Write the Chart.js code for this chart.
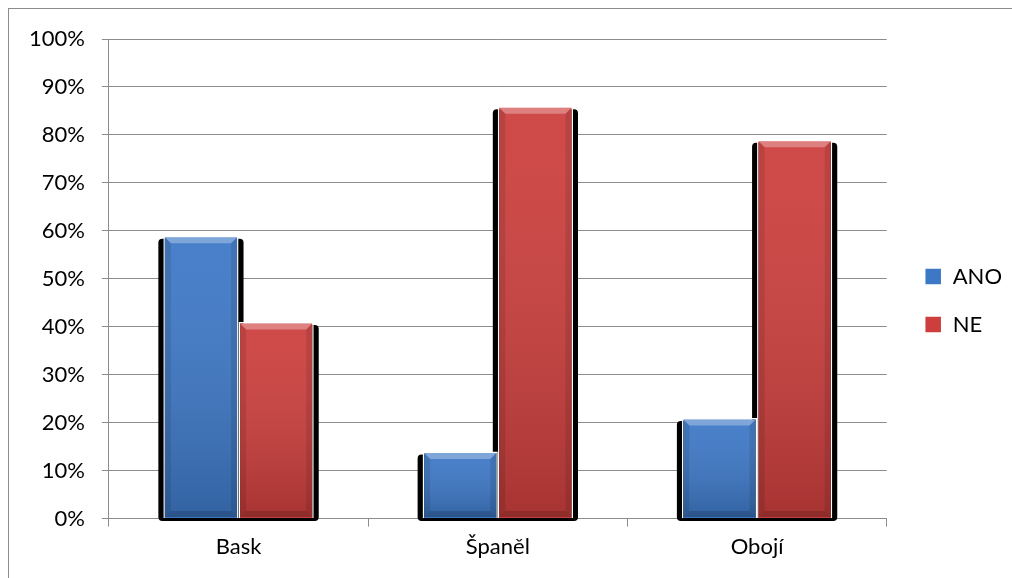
<!DOCTYPE html>
<html>
<head>
<meta charset="utf-8">
<script src="https://cdn.jsdelivr.net/npm/chart.js@4"></script>
<style>
  body { margin: 0; background: #fff; }
  #wrap { position: relative; width: 1012px; height: 578px; }
  #ramecek { position: absolute; left: 8px; top: 8px; right: -2px; bottom: -2px;
    border-left: 1px solid #8c8c8c; border-top: 1px solid #8c8c8c; pointer-events: none; }
</style>
</head>
<body>
<div id="wrap">
<canvas id="graf" width="1012" height="578"></canvas>
<div id="ramecek"></div>
</div>
<script>
const kategorie = ["Bask", "Španěl", "Obojí"];
const ano = [59, 14, 21];
const ne = [41, 86, 79];
const tickyY = [0, 10, 20, 30, 40, 50, 60, 70, 80, 90, 100];

const modra = "#3d78c6";
const cervena = "#cc3f3d";
const pismo = "Lato, 'Open Sans', sans-serif";

// stin + zkoseni sloupcu (jako v Excelu)
const efektSloupcu = {
  id: "efektSloupcu",
  beforeDatasetsDraw(chart) {
    const ctx = chart.ctx;
    ctx.save();
    chart.data.datasets.forEach((ds, i) => {
      chart.getDatasetMeta(i).data.forEach((bar) => {
        const l = bar.x - bar.width / 2;
        ctx.fillStyle = "#000";
        ctx.beginPath();
        ctx.roundRect(l - 5, bar.y + 3, bar.width + 10, bar.base - bar.y, 4);
        ctx.fill();
      });
    });
    ctx.restore();
  },
  afterDatasetsDraw(chart) {
    const ctx = chart.ctx;
    ctx.save();
    chart.data.datasets.forEach((ds, i) => {
      chart.getDatasetMeta(i).data.forEach((bar) => {
        const l = bar.x - bar.width / 2 + 1.5, r = bar.x + bar.width / 2 - 1.5;
        const t = bar.y + 1.5, b = bar.base - 1;
        const g = ctx.createLinearGradient(0, t, 0, b);
        g.addColorStop(0, "rgba(255,255,255,0.06)");
        g.addColorStop(1, "rgba(0,0,0,0.18)");
        ctx.fillStyle = g;
        ctx.fillRect(l, t, r - l, b - t);
        const e = 6;
        // horni hrana
        ctx.fillStyle = "rgba(255,255,255,0.3)";
        ctx.beginPath();
        ctx.moveTo(l, t); ctx.lineTo(r, t); ctx.lineTo(r - e, t + e); ctx.lineTo(l + e, t + e);
        ctx.closePath(); ctx.fill();
        // boky
        ctx.fillStyle = "rgba(0,0,0,0.1)";
        ctx.beginPath();
        ctx.moveTo(l, t); ctx.lineTo(l + e, t + e); ctx.lineTo(l + e, b - e); ctx.lineTo(l, b);
        ctx.closePath(); ctx.fill();
        ctx.beginPath();
        ctx.moveTo(r, t); ctx.lineTo(r - e, t + e); ctx.lineTo(r - e, b - e); ctx.lineTo(r, b);
        ctx.closePath(); ctx.fill();
        // spodni hrana
        ctx.fillStyle = "rgba(0,0,0,0.15)";
        ctx.beginPath();
        ctx.moveTo(l, b); ctx.lineTo(l + e, b - e); ctx.lineTo(r - e, b - e); ctx.lineTo(r, b);
        ctx.closePath(); ctx.fill();
      });
    });
    ctx.restore();
  }
};

// legenda posunuta doprava od grafu
const posunLegendy = {
  id: "posunLegendy",
  beforeInit(chart) {
    const puvodniFit = chart.legend.fit;
    chart.legend.fit = function () {
      puvodniFit.call(this);
      this.width += 12;
    };
  },
  afterLayout(chart) {
    chart.legend.left += 12;
    chart.legend.top -= 5;
  }
};

const data = {
  labels: kategorie,
  datasets: [
    { label: "ANO", data: ano, backgroundColor: modra, borderColor: "#fff", borderWidth: 1.5 },
    { label: "NE", data: ne, backgroundColor: cervena, borderColor: "#fff", borderWidth: 1.5 }
  ]
};

const config = {
  type: "bar",
  data: data,
  options: {
    responsive: false,
    animation: false,
    layout: { padding: { left: 12, top: 39, right: 0, bottom: 11 } },
    datasets: { bar: { categoryPercentage: 0.58, barPercentage: 1 } },
    scales: {
      x: {
        grid: { drawOnChartArea: false, drawTicks: true, tickLength: 8, color: "#8c8c8c", offset: true },
        border: { color: "#8c8c8c" },
        ticks: { color: "#000", font: { family: pismo, size: 22 }, padding: 7 }
      },
      y: {
        min: 0, max: 100,
        afterBuildTicks: (s) => { s.ticks = tickyY.map((v) => ({ value: v })); },
        grid: { color: "#8c8c8c", tickLength: 7 },
        border: { color: "#8c8c8c" },
        ticks: { color: "#000", font: { family: pismo, size: 22 }, padding: 17, callback: (v) => v + "%" }
      }
    },
    plugins: {
      tooltip: { enabled: false },
      legend: {
        position: "right",
        labels: { color: "#000", font: { family: pismo, size: 22 }, boxWidth: 17, boxHeight: 17, padding: 26 }
      }
    }
  },
  plugins: [efektSloupcu, posunLegendy]
};

const chart = new Chart(document.getElementById("graf"), config);
</script>
</body>
</html>
